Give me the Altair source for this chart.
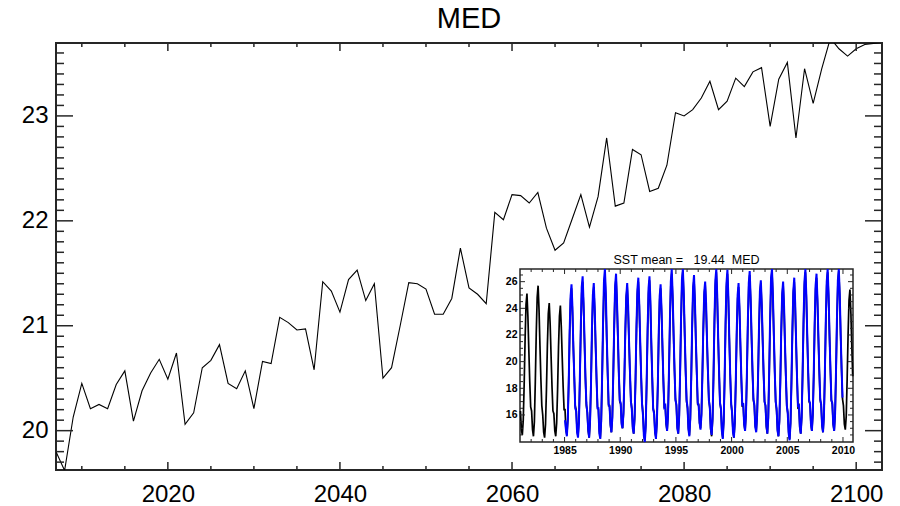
import altair as alt
import pandas as pd

FONT = "Liberation Sans"
FRAME = "#262626"

# ---------------- main series (annual mean SST, MED) ----------------
years = list(range(2007, 2104))
med_sst = [
    19.80, 19.62, 20.13, 20.45, 20.21, 20.25, 20.21, 20.44, 20.57, 20.09,
    20.38, 20.55, 20.68, 20.49, 20.74, 20.06, 20.17, 20.60, 20.67, 20.82,
    20.45, 20.40, 20.57, 20.21, 20.66, 20.64, 21.08, 21.03, 20.96, 20.97,
    20.58, 21.42, 21.33, 21.13, 21.44, 21.53, 21.24, 21.40, 20.50, 20.60,
    21.00, 21.41, 21.40, 21.35, 21.11, 21.11, 21.26, 21.74, 21.36, 21.30,
    21.21, 22.08, 22.01, 22.25, 22.24, 22.17, 22.27, 21.93, 21.72, 21.79,
    22.02, 22.25, 21.94, 22.23, 22.79, 22.14, 22.17, 22.68, 22.63, 22.28,
    22.31, 22.53, 23.03, 23.00, 23.06, 23.17, 23.33, 23.06, 23.14, 23.36,
    23.28, 23.42, 23.46, 22.90, 23.35, 23.51, 22.79, 23.45, 23.12, 23.45,
    23.74, 23.64, 23.57, 23.64, 23.68, 23.69, 23.70,
]
X_DOMAIN = [2007, 2103]
Y_DOMAIN = [19.625, 23.695]
x_major = [2020, 2040, 2060, 2080, 2100]
x_minor = [2010, 2015, 2025, 2030, 2035, 2045, 2050, 2055, 2065, 2070, 2075, 2085, 2090, 2095]
y_major = [20, 21, 22, 23]
y_minor = [round(19.7 + 0.1 * i, 1) for i in range(40) if round(19.7 + 0.1 * i, 1) not in y_major]
main_title = "MED"

# ---------------- inset series (monthly SST) ----------------
black_years = list(range(1981, 2011))
black_monthly = [
    [16.3, 14.9, 14.5, 15.6, 18.3, 21.7, 24.3, 25.1, 23.4, 20.9, 18.5, 16.6],
    [16.3, 14.9, 14.4, 15.5, 18.5, 22.1, 24.8, 25.7, 23.9, 21.2, 18.7, 16.7],
    [16.0, 14.7, 14.3, 15.3, 17.9, 21.2, 23.6, 24.4, 22.8, 20.4, 18.1, 16.3],
    [16.1, 14.8, 14.4, 15.4, 17.9, 21.1, 23.4, 24.2, 22.6, 20.3, 18.1, 16.4],
    [16.4, 14.9, 14.5, 15.6, 18.5, 22.0, 24.6, 25.5, 23.7, 21.1, 18.7, 16.7],
    [16.4, 14.9, 14.4, 15.6, 18.6, 22.3, 25.1, 26.0, 24.1, 21.4, 18.8, 16.7],
    [16.2, 14.8, 14.3, 15.4, 18.4, 22.0, 24.7, 25.6, 23.8, 21.1, 18.6, 16.6],
    [16.4, 14.8, 14.3, 15.5, 18.7, 22.6, 25.5, 26.5, 24.5, 21.6, 18.9, 16.7],
    [16.7, 15.2, 14.7, 15.9, 18.9, 22.6, 25.4, 26.3, 24.4, 21.7, 19.1, 17.0],
    [16.8, 15.4, 15.0, 16.1, 18.8, 22.2, 24.8, 25.6, 23.9, 21.4, 19.0, 17.1],
    [16.5, 15.1, 14.6, 15.7, 18.7, 22.4, 25.1, 26.0, 24.2, 21.4, 18.9, 16.9],
    [16.1, 14.6, 14.1, 15.3, 18.4, 22.3, 25.1, 26.1, 24.2, 21.3, 18.7, 16.5],
    [16.2, 14.7, 14.3, 15.4, 18.3, 21.9, 24.6, 25.5, 23.7, 21.0, 18.6, 16.5],
    [16.8, 15.3, 14.8, 16.0, 19.0, 22.8, 25.7, 26.6, 24.7, 21.9, 19.3, 17.2],
    [16.7, 15.1, 14.6, 15.8, 19.0, 22.9, 25.8, 26.8, 24.8, 21.9, 19.2, 17.0],
    [16.5, 15.0, 14.5, 15.7, 18.7, 22.5, 25.3, 26.2, 24.3, 21.5, 19.0, 16.8],
    [16.8, 15.4, 15.0, 16.1, 18.9, 22.3, 24.9, 25.8, 24.1, 21.5, 19.1, 17.2],
    [16.5, 14.9, 14.4, 15.6, 18.8, 22.8, 25.7, 26.7, 24.7, 21.8, 19.1, 16.9],
    [16.4, 14.8, 14.3, 15.5, 18.7, 22.7, 25.6, 26.6, 24.6, 21.7, 19.0, 16.8],
    [16.2, 14.8, 14.3, 15.4, 18.4, 22.0, 24.7, 25.6, 23.8, 21.1, 18.6, 16.6],
    [16.8, 15.3, 14.8, 16.0, 19.0, 22.8, 25.6, 26.5, 24.6, 21.8, 19.2, 17.1],
    [16.7, 15.2, 14.8, 15.9, 18.8, 22.3, 25.0, 25.9, 24.1, 21.5, 19.0, 17.0],
    [16.7, 15.1, 14.6, 15.8, 19.0, 22.9, 25.8, 26.8, 24.8, 21.9, 19.2, 17.0],
    [16.3, 14.9, 14.4, 15.5, 18.5, 22.2, 24.9, 25.8, 24.0, 21.2, 18.7, 16.7],
    [16.2, 14.7, 14.2, 15.4, 18.4, 22.2, 25.1, 26.0, 24.1, 21.3, 18.7, 16.6],
    [16.7, 15.1, 14.6, 15.8, 19.0, 22.8, 25.7, 26.7, 24.8, 21.9, 19.2, 17.0],
    [16.8, 15.3, 14.8, 16.0, 18.9, 22.6, 25.4, 26.3, 24.5, 21.7, 19.2, 17.1],
    [16.7, 15.2, 14.7, 15.9, 19.0, 22.9, 25.7, 26.7, 24.8, 21.9, 19.3, 17.1],
    [16.8, 15.3, 14.8, 16.0, 19.1, 23.0, 25.8, 26.8, 24.9, 22.0, 19.4, 17.2],
    [16.7, 15.3, 14.9, 15.9, 18.7, 22.0, 24.6, 25.4, 23.7, 21.2, 18.9],
]
blue_years = list(range(1985, 2010))
blue_monthly = [
    [15.6, 14.9, 14.4, 15.7, 18.4, 22.3, 24.9, 25.8, 24.1, 21.0, 18.9, 16.5],
    [16.3, 14.7, 14.3, 15.4, 18.8, 22.6, 25.6, 26.4, 24.4, 21.7, 18.8, 16.9],
    [16.2, 14.9, 14.3, 15.6, 18.3, 22.4, 25.0, 25.9, 24.0, 21.3, 18.7, 16.5],
    [16.5, 14.6, 14.2, 15.6, 18.9, 23.0, 26.1, 27.2, 25.1, 21.8, 19.2, 16.8],
    [16.6, 15.3, 14.7, 15.8, 19.1, 22.7, 25.7, 26.6, 24.5, 22.0, 19.1, 17.1],
    [16.9, 15.3, 15.0, 16.2, 18.9, 22.5, 24.9, 25.9, 24.2, 21.5, 19.2, 17.0],
    [16.4, 15.0, 14.6, 15.9, 18.7, 22.7, 25.4, 26.3, 24.3, 21.6, 19.0, 16.8],
    [16.0, 14.4, 13.9, 15.2, 18.6, 22.4, 25.5, 26.4, 24.6, 21.4, 18.8, 16.4],
    [16.1, 14.7, 14.2, 15.5, 18.2, 22.2, 24.9, 25.8, 23.9, 21.2, 18.5, 16.6],
    [16.7, 15.4, 14.8, 16.0, 19.3, 23.0, 26.0, 27.0, 25.0, 22.1, 19.4, 17.1],
    [16.8, 15.0, 14.6, 15.9, 19.1, 23.2, 26.2, 27.2, 25.0, 22.1, 19.3, 17.1],
    [16.6, 14.9, 14.4, 15.8, 18.8, 22.8, 25.6, 26.5, 24.5, 21.6, 19.2, 16.9],
    [16.7, 15.4, 14.9, 16.0, 19.0, 22.5, 25.2, 26.0, 24.4, 21.6, 19.3, 17.1],
    [16.6, 15.0, 14.5, 15.8, 19.0, 23.1, 26.1, 27.1, 25.0, 21.9, 19.3, 16.9],
    [16.5, 14.8, 14.2, 15.6, 18.8, 23.0, 25.9, 26.9, 24.9, 21.8, 19.0, 16.9],
    [16.2, 14.7, 14.3, 15.6, 18.5, 22.2, 25.0, 25.9, 24.1, 21.3, 18.8, 16.7],
    [16.9, 15.3, 14.8, 16.1, 19.2, 23.0, 25.9, 26.8, 24.8, 22.0, 19.4, 17.2],
    [16.8, 15.1, 14.7, 16.0, 18.8, 22.5, 25.3, 26.1, 24.3, 21.6, 19.1, 17.0],
    [16.7, 15.2, 14.6, 15.8, 19.3, 23.3, 26.3, 27.1, 25.0, 22.1, 19.2, 17.0],
    [16.5, 14.8, 14.4, 15.7, 18.6, 22.4, 25.1, 26.0, 24.2, 21.4, 18.9, 16.7],
    [16.1, 14.6, 14.1, 15.4, 18.6, 22.4, 25.3, 26.3, 24.4, 21.5, 18.8, 16.6],
    [16.8, 15.1, 14.6, 15.9, 19.2, 23.1, 26.0, 27.0, 25.0, 22.0, 19.3, 17.1],
    [16.9, 15.3, 14.8, 16.1, 19.1, 22.9, 25.7, 26.6, 24.7, 21.9, 19.3, 17.2],
    [16.8, 15.2, 14.7, 16.0, 19.2, 23.1, 26.0, 27.0, 25.0, 22.0, 19.4, 17.1],
    [16.9, 15.3, 14.8, 16.1, 19.3, 23.2, 26.1, 27.1, 25.1, 22.1, 19.5, 17.3],
]
INSET_X_DOMAIN = [1981.0, 2010.9]
INSET_Y_DOMAIN = [13.97, 26.95]
inset_x_major = [1985, 1990, 1995, 2000, 2005, 2010]
inset_x_minor = [y for y in range(1982, 2011) if y not in inset_x_major]
inset_y_major = [16, 18, 20, 22, 24, 26]
inset_y_minor = [14.5, 15, 15.5, 16.5, 17, 17.5, 18.5, 19, 19.5, 20.5, 21, 21.5,
                 22.5, 23, 23.5, 24.5, 25, 25.5, 26.5]
inset_title = "SST mean =\u00a0\u00a0 19.44\u00a0\u00a0MED"

# ---------------- layout (pixels, relative to plot area) ----------------
W, H = 826, 427
IL, IR, IT, IB = 464, 797, 226, 399   # inset box

def monthly_frame(yrs, rows):
    recs = []
    for yr, row in zip(yrs, rows):
        for m, v in enumerate(row):
            recs.append({"t": yr + (m + 0.5) / 12.0, "sst": v})
    return pd.DataFrame(recs)

main_df = pd.DataFrame({"year": years, "sst": med_sst})
black_df = monthly_frame(black_years, black_monthly)
blue_df = monthly_frame(blue_years, blue_monthly)

xs = alt.Scale(domain=X_DOMAIN, nice=False, zero=False)
ys = alt.Scale(domain=Y_DOMAIN, nice=False, zero=False)
ixs = alt.Scale(domain=INSET_X_DOMAIN, range=[IL, IR], nice=False, zero=False)
iys = alt.Scale(domain=INSET_Y_DOMAIN, range=[IB, IT], nice=False, zero=False, clamp=True)

def label_axis(orient, values, size, pad, offset=0, bold=False):
    return alt.Axis(orient=orient, values=values, ticks=False, domain=False, grid=False,
                    labelFont=FONT, labelFontSize=size, labelColor="black",
                    labelFontWeight="bold" if bold else "normal",
                    labelPadding=pad, offset=offset, format="d", title=None,
                    labelFlush=False, labelOverlap=False)

layers = []

# main line with labelled axes
layers.append(
    alt.Chart(main_df).mark_line(color="black", strokeWidth=1.1, clip=True).encode(
        x=alt.X("year:Q", scale=xs, axis=label_axis("bottom", x_major, 24, 12)),
        y=alt.Y("sst:Q", scale=ys, axis=label_axis("left", y_major, 24, 8)),
    )
)

def xticks(vals, scale, y0, y1, width=1.5):
    return alt.Chart(pd.DataFrame({"v": vals})).mark_rule(color=FRAME, strokeWidth=width).encode(
        x=alt.X("v:Q", scale=scale, axis=None), y=alt.value(y0), y2=alt.value(y1))

def yticks(vals, scale, x0, x1, width=1.5):
    return alt.Chart(pd.DataFrame({"v": vals})).mark_rule(color=FRAME, strokeWidth=width).encode(
        y=alt.Y("v:Q", scale=scale, axis=None), x=alt.value(x0), x2=alt.value(x1))

# main ticks (inward, all four sides)
layers += [
    xticks(x_major, xs, H, H - 8), xticks(x_minor, xs, H, H - 4),
    xticks(x_major, xs, 0, 8), xticks(x_minor, xs, 0, 4),
    yticks(y_major, ys, 0, 17), yticks(y_minor, ys, 0, 8),
    yticks(y_major, ys, W, W - 17), yticks(y_minor, ys, W, W - 8),
]

# inset frame
box_df = pd.DataFrame({"x0": [INSET_X_DOMAIN[0]], "x1": [INSET_X_DOMAIN[1]],
                       "y0": [INSET_Y_DOMAIN[0]], "y1": [INSET_Y_DOMAIN[1]]})
layers.append(
    alt.Chart(box_df).mark_rect(fill="white", stroke=FRAME, strokeWidth=1.5).encode(
        x=alt.X("x0:Q", scale=ixs, axis=None), x2="x1:Q",
        y=alt.Y("y0:Q", scale=iys, axis=None), y2="y1:Q",
    )
)

# inset curves
layers.append(
    alt.Chart(black_df).mark_line(color="black", strokeWidth=1.7).encode(
        x=alt.X("t:Q", scale=ixs, axis=label_axis("bottom", inset_x_major, 10.5, 3, offset=-(H - IB), bold=True)),
        y=alt.Y("sst:Q", scale=iys, axis=label_axis("left", inset_y_major, 10.5, 3, offset=-IL, bold=True)),
    )
)
layers.append(
    alt.Chart(blue_df).mark_line(color="#0000ff", strokeWidth=2).encode(
        x=alt.X("t:Q", scale=ixs, axis=None),
        y=alt.Y("sst:Q", scale=iys, axis=None),
    )
)

# inset ticks
layers += [
    xticks(inset_x_major, ixs, IB, IB - 5, 1), xticks(inset_x_minor, ixs, IB, IB - 3, 1),
    xticks(inset_x_major, ixs, IT, IT + 5, 1), xticks(inset_x_minor, ixs, IT, IT + 3, 1),
    yticks(inset_y_major, iys, IL, IL + 5, 1), yticks(inset_y_minor, iys, IL, IL + 3, 1),
    yticks(inset_y_major, iys, IR, IR - 5, 1), yticks(inset_y_minor, iys, IR, IR - 3, 1),
]

# inset title
layers.append(
    alt.Chart(pd.DataFrame({"t": [inset_title]})).mark_text(
        font=FONT, fontSize=12.5, color="black", baseline="alphabetic", align="center"
    ).encode(text="t:N", x=alt.value((IL + IR) / 2), y=alt.value(IT - 5))
)

# main title
layers.append(
    alt.Chart(pd.DataFrame({"t": [main_title]})).mark_text(
        font=FONT, fontSize=29, color="black", baseline="alphabetic", align="center"
    ).encode(text="t:N", x=alt.value(W / 2), y=alt.value(-15))
)

chart = alt.layer(*layers).resolve_scale(x="independent", y="independent").properties(
    width=W, height=H,
    background="white",
    padding={"left": 56, "top": 43, "right": 18, "bottom": 36},
    autosize=alt.AutoSizeParams(type="none"),
).configure_view(stroke=FRAME, strokeWidth=2)

chart.save("out.html", embed_options={"renderer": "svg", "actions": False})
